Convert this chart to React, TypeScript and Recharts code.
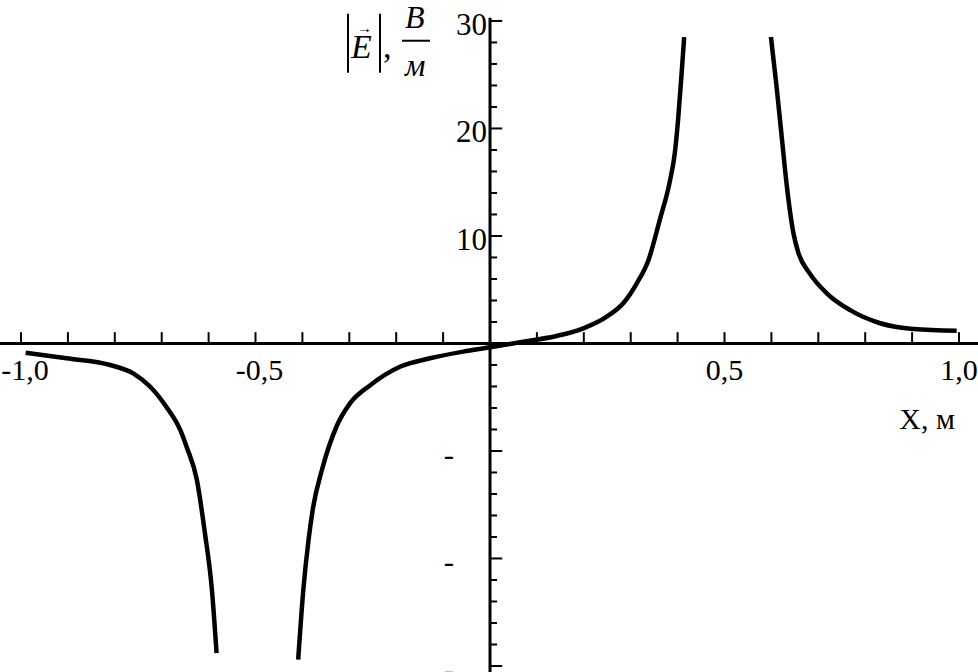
import { LineChart, Line, XAxis, YAxis, ReferenceLine } from "recharts";

// curve branches (x in m, y in V/m)
const LEFT_X = [-0.99, -0.903, -0.81, -0.76, -0.725, -0.69, -0.661, -0.647, -0.625, -0.608, -0.593, -0.583];
const LEFT_Y = [-0.86, -1.38, -2.0, -2.8, -4.0, -5.9, -8.0, -9.6, -12.7, -17.6, -22.9, -28.8];

const MID_X = [
  -0.409, -0.398, -0.387, -0.377, -0.358, -0.327, -0.299, -0.256, -0.192, -0.128, -0.057, 0,
  0.071, 0.142, 0.199, 0.249, 0.284, 0.313, 0.338, 0.362, 0.384, 0.394, 0.401, 0.409, 0.414,
];
const MID_Y = [
  -29.4, -22.9, -18.3, -15.2, -11.7, -7.7, -5.6, -3.9, -2.16, -1.38, -0.76, -0.36,
  0.17, 0.7, 1.41, 2.5, 3.74, 5.6, 7.77, 11.5, 15.2, 17.7, 20.8, 25.4, 28.5,
];

const RIGHT_X = [0.599, 0.611, 0.622, 0.633, 0.647, 0.657, 0.682, 0.718, 0.768, 0.832, 0.903, 0.995];
const RIGHT_Y = [28.5, 23.9, 19.2, 14.6, 10.25, 8.5, 6.5, 4.67, 3.1, 1.88, 1.35, 1.19];

const X_TICKS = [
  -1, -0.9, -0.8, -0.7, -0.6, -0.5, -0.4, -0.3, -0.2, -0.1,
  0.1, 0.2, 0.3, 0.4, 0.5, 0.6, 0.7, 0.8, 0.9, 1,
];
const X_LABEL_VALUES = [-1, -0.5, 0.5, 1];
const X_LABEL_TEXT = ["-1,0", "-0,5", "0,5", "1,0"];

const Y_TICKS = [
  -30, -28, -26, -24, -22, -20, -18, -16, -14, -12, -10, -8, -6, -4, -2,
  2, 4, 6, 8, 10, 12, 14, 16, 18, 20, 22, 24, 26, 28, 30,
];
const Y_LABEL_VALUES = [30, 20, 10, -10, -20, -30];
const Y_LABEL_TEXT = ["30", "20", "10", "-", "-", "-"];

const FONT = '"Liberation Serif", "Times New Roman", serif';

// one series, branches split by nulls so the poles stay open
const curve = [
  ...LEFT_X.map((x, i) => ({ x, y: LEFT_Y[i] as number | null })),
  { x: -0.5, y: null },
  ...MID_X.map((x, i) => ({ x, y: MID_Y[i] as number | null })),
  { x: 0.5, y: null },
  ...RIGHT_X.map((x, i) => ({ x, y: RIGHT_Y[i] as number | null })),
];

const xTickLabel = (text: string) => (props: any) => {
  const vb = props.viewBox || props;
  const shift = text.startsWith("-") ? 4 : 0;
  return (
    <text x={vb.x + shift} y={vb.y + vb.height + 37} textAnchor="middle" fontSize={30} fontFamily={FONT} fill="#000">
      {text}
    </text>
  );
};

const yTickLabel = (text: string) => (props: any) => {
  const vb = props.viewBox || props;
  const dx = text === "-" ? 36 : 3;
  return (
    <text x={vb.x - dx} y={vb.y + 14} textAnchor="end" fontSize={31} fontFamily={FONT} fill="#000">
      {text}
    </text>
  );
};

const yAxisTitle = (props: any) => {
  const vb = props.viewBox || props;
  const x0 = vb.x;
  const y0 = vb.y;
  return (
    <g fontFamily={FONT} fill="#000">
      <line x1={x0 - 142} y1={y0 - 4} x2={x0 - 142} y2={y0 + 55} stroke="#000" strokeWidth={2} />
      <text x={x0 - 139} y={y0 + 40} fontSize={34} fontStyle="italic">E</text>
      <text x={x0 - 133} y={y0 + 15} fontSize={15}>→</text>
      <line x1={x0 - 110} y1={y0 - 4} x2={x0 - 110} y2={y0 + 55} stroke="#000" strokeWidth={2} />
      <text x={x0 - 107} y={y0 + 40} fontSize={34}>,</text>
      <text x={x0 - 85} y={y0 + 10} fontSize={32} fontStyle="italic">B</text>
      <line x1={x0 - 88} y1={y0 + 23} x2={x0 - 60} y2={y0 + 23} stroke="#000" strokeWidth={2} />
      <text x={x0 - 85} y={y0 + 58} fontSize={32} fontStyle="italic">м</text>
    </g>
  );
};

const xAxisTitle = (props: any) => {
  const vb = props.viewBox || props;
  return (
    <text x={vb.x + vb.width - 23} y={vb.y + 86} textAnchor="end" fontSize={30} fontFamily={FONT} fill="#000">
      X, м
    </text>
  );
};

export default function App() {
  return (
    <div style={{ position: "absolute", left: 0, top: 0, background: "#fff" }}>
      <LineChart width={978} height={672} data={curve} margin={{ top: 0, right: 0, bottom: 0, left: 0 }}>
        <XAxis type="number" dataKey="x" domain={[-1.0448, 1.0405]} allowDataOverflow hide />
        <YAxis type="number" domain={[-30.56, 31.95]} allowDataOverflow hide />

        <ReferenceLine y={0} stroke="#000" strokeWidth={3} label={xAxisTitle} />
        <ReferenceLine
          segment={[{ x: 0, y: 30.3 }, { x: 0, y: -30.55 }]}
          stroke="#000"
          strokeWidth={3}
          label={yAxisTitle}
        />

        {X_TICKS.map((t) => {
          const idx = X_LABEL_VALUES.indexOf(t);
          return (
            <ReferenceLine
              key={`xt-${t}`}
              segment={[{ x: t, y: 0 }, { x: t, y: 1.05 }]}
              stroke="#000"
              strokeWidth={2}
              label={idx >= 0 ? xTickLabel(X_LABEL_TEXT[idx]) : undefined}
            />
          );
        })}

        {Y_TICKS.map((t) => {
          const idx = Y_LABEL_VALUES.indexOf(t);
          const len = t % 10 === 0 ? 0.026 : 0.015;
          return (
            <ReferenceLine
              key={`yt-${t}`}
              segment={[{ x: 0, y: t }, { x: len, y: t }]}
              stroke="#000"
              strokeWidth={2}
              label={idx >= 0 ? yTickLabel(Y_LABEL_TEXT[idx]) : undefined}
            />
          );
        })}

        <Line
          dataKey="y"
          type="monotone"
          stroke="#000"
          strokeWidth={4.5}
          dot={false}
          activeDot={false}
          connectNulls={false}
          isAnimationActive={false}
        />
      </LineChart>
    </div>
  );
}
